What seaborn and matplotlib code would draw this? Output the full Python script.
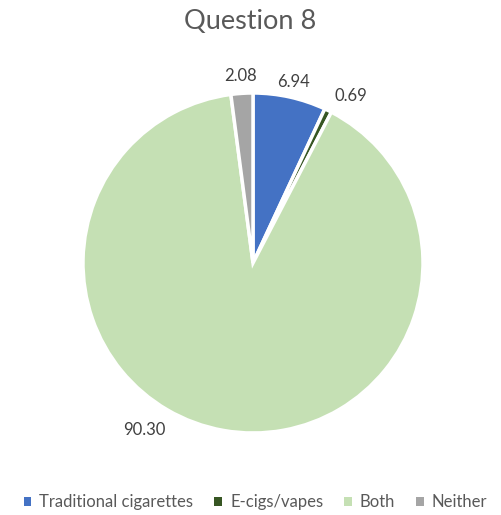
import numpy as np
import matplotlib
matplotlib.use("Agg")
import matplotlib.pyplot as plt
from matplotlib.patches import Patch
import seaborn as sns

categories = ["Traditional cigarettes", "E-cigs/vapes", "Both", "Neither"]
values = [6.94, 0.69, 90.30, 2.08]
label_texts = ["6.94", "0.69", "90.30", "2.08"]
colors = ["#4472C4", "#375623", "#C5E0B4", "#A5A5A5"]

sns.set_theme(style="white")
plt.rcParams["font.family"] = ["Lato", "DejaVu Sans"]
palette = sns.color_palette(colors)

fig = plt.figure(figsize=(5.01, 5.15), dpi=100)
ax = fig.add_axes([83 / 501, 82 / 515, 340 / 501, 340 / 515])
wedges, _ = ax.pie(values, colors=palette, startangle=90, counterclock=False,
                   radius=1.0, wedgeprops=dict(edgecolor="white", linewidth=2.5))
ax.set_xlim(-1, 1)
ax.set_ylim(-1, 1)
ax.set_aspect("equal")

# data labels placed outside the slices (Excel-like best fit placement)
label_angle_shift = [0, -4, 0, 0]
label_radius = [1.09, 1.14, 1.17, 1.10]
for w, v, t, da, r in zip(wedges, values, label_texts, label_angle_shift, label_radius):
    mid = (w.theta1 + w.theta2) / 2 + da
    if v > 50:
        mid = 237
    mid = np.deg2rad(mid)
    ax.text(r * np.cos(mid), r * np.sin(mid), t, ha="center", va="center",
            fontsize=12, color="#404040")

fig.text(0.5, 0.958, "Question 8", ha="center", va="center", fontsize=19.5, color="#595959")

handles = [Patch(facecolor=c, edgecolor="none") for c in colors]
fig.legend(handles, categories, loc="center", bbox_to_anchor=(0.51, 0.025), ncol=4,
           frameon=False, fontsize=12, handlelength=0.45, handleheight=0.45,
           columnspacing=1.25, handletextpad=0.5, labelcolor="#595959")

fig.savefig("out.png", dpi=100)
